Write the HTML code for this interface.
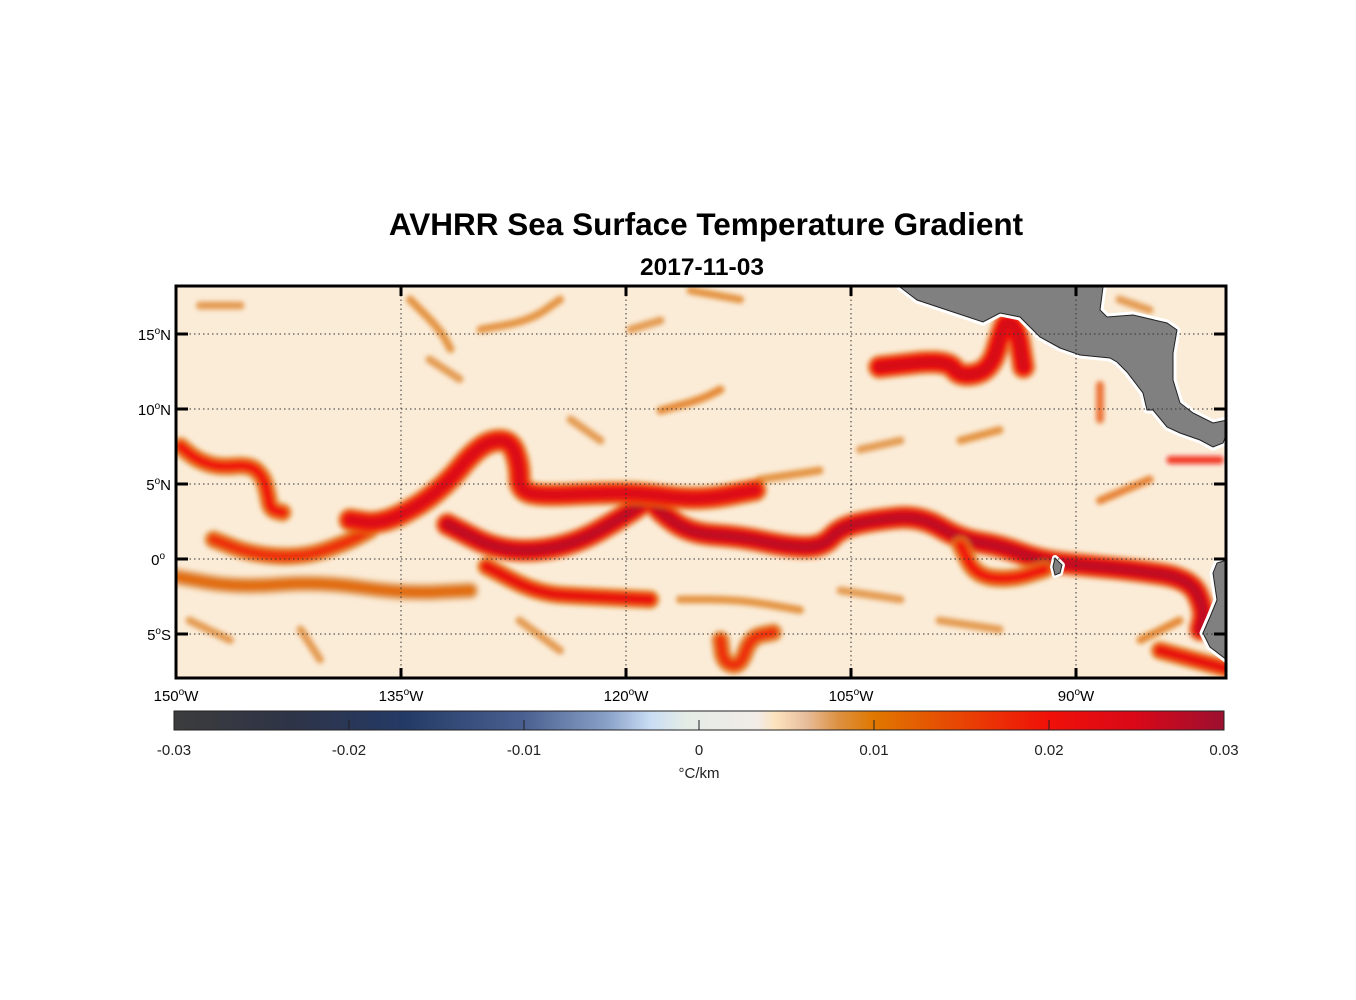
<!DOCTYPE html>
<html><head><meta charset="utf-8">
<style>
html,body{margin:0;padding:0;background:#fff;}
svg{display:block;font-family:"Liberation Sans",Arial,sans-serif;}
</style></head>
<body>
<svg id="fig" width="1356" height="1000" viewBox="0 0 1356 1000">
  <defs>
    <filter id="blur" x="-20%" y="-20%" width="140%" height="140%"><feGaussianBlur stdDeviation="2.5"/></filter>
    <clipPath id="mapclip"><rect x="176" y="286" width="1050" height="392"/></clipPath>
    <linearGradient id="cbgrad" x1="0" x2="1" y1="0" y2="0">
      <stop offset="0" stop-color="#3c3c3c"/>
      <stop offset="0.17" stop-color="#2e3448"/>
      <stop offset="0.33" stop-color="#243a66"/>
      <stop offset="0.5" stop-color="#4a6090"/>
      <stop offset="0.62" stop-color="#8aa2c8"/>
      <stop offset="0.68" stop-color="#c8dcf4"/>
      <stop offset="0.73" stop-color="#e4ece6"/>
      <stop offset="0.833" stop-color="#f2ece8"/>
      <stop offset="0.86" stop-color="#fde2bc"/>
      <stop offset="0.9" stop-color="#e8c0a0"/>
      <stop offset="0.95" stop-color="#dc9040"/>
      <stop offset="1" stop-color="#e07800"/>
    </linearGradient>
    <linearGradient id="cbgrad2" x1="0" x2="1" y1="0" y2="0">
      <stop offset="0" stop-color="#e07800"/>
      <stop offset="0.5" stop-color="#f01008"/>
      <stop offset="0.75" stop-color="#d80818"/>
      <stop offset="1" stop-color="#9c1030"/>
    </linearGradient>
  </defs>
  <text x="706" y="235" text-anchor="middle" font-size="31.5" font-weight="bold">AVHRR Sea Surface Temperature Gradient</text>
  <text x="702" y="275" text-anchor="middle" font-size="24.5" font-weight="bold">2017-11-03</text>
  <g clip-path="url(#mapclip)">
    <rect x="176" y="286" width="1050" height="392" fill="#fbecd8"/>
    <g id="fronts" filter="url(#blur)"></g>
    <g>
      <path d="M900,287 L917,300 L947,310 L983,322 L1000,313 L1020,317 L1040,337 L1060,348 L1080,355 L1110,358 L1117,362 L1127,372 L1143,393 L1147,410 L1153,410 L1167,427 L1180,433 L1200,440 L1213,447 L1223,443 L1227,433 L1227,420 L1213,423 L1193,413 L1180,403 L1173,380 L1173,353 L1177,330 L1167,323 L1133,315 L1107,317 L1100,310 L1103,287 Z" fill="#808080" stroke="#fff" stroke-width="7" stroke-linejoin="round"/>
      <path d="M900,287 L917,300 L947,310 L983,322 L1000,313 L1020,317 L1040,337 L1060,348 L1080,355 L1110,358 L1117,362 L1127,372 L1143,393 L1147,410 L1153,410 L1167,427 L1180,433 L1200,440 L1213,447 L1223,443 L1227,433 L1227,420 L1213,423 L1193,413 L1180,403 L1173,380 L1173,353 L1177,330 L1167,323 L1133,315 L1107,317 L1100,310 L1103,287 Z" fill="#808080" stroke="#222" stroke-width="1"/>
      <path d="M1227,560 L1217,563 L1213,573 L1217,600 L1210,617 L1203,633 L1210,647 L1227,660 Z" fill="#808080" stroke="#fff" stroke-width="7" stroke-linejoin="round"/>
      <path d="M1227,560 L1217,563 L1213,573 L1217,600 L1210,617 L1203,633 L1210,647 L1227,660 Z" fill="#808080" stroke="#222" stroke-width="1"/>
      <path d="M1055,558 L1062,565 L1060,573 L1055,575 L1053,567 Z" fill="#808080" stroke="#fff" stroke-width="6" stroke-linejoin="round"/>
      <path d="M1055,558 L1062,565 L1060,573 L1055,575 L1053,567 Z" fill="#808080" stroke="#222" stroke-width="1"/>
    </g>
    <g id="grid"></g>
  </g>
  <rect x="176" y="286" width="1050" height="392" fill="none" stroke="#000" stroke-width="3"/>
  <g id="axes"></g>
  <g id="colorbar"></g>
  <text x="699" y="778" text-anchor="middle" font-size="15" fill="#222">°C/km</text>
</svg>
<script>
// ---- data ----
const lonTicks = [150, 135, 120, 105, 90];            // degrees W
const latTicks = [15, 10, 5, 0, -5];
const latTickLabels = ["15", "10", "5", "0", "5"];
const latTickSuffix = ["N", "N", "N", "", "S"];
const cbTicks = [-0.03, -0.02, -0.01, 0, 0.01, 0.02, 0.03];
const cbTickLabels = ["-0.03", "-0.02", "-0.01", "0", "0.01", "0.02", "0.03"];

// fronts: lon in degrees W, lat in degrees N, value = gradient (°C/km)
const frontNames = ["equatorial-front","south-branch-left","loop-front","west-wiggle","south-band","south-band-east","north-loop","south-hook","southeast-front","galapagos-loop"];
const frontValues = [0.027, 0.018, 0.024, 0.02, 0.012, 0.022, 0.025, 0.018, 0.022, 0.02];
const frontLons = [
 [131.9,128.2,123.7,119.7,118.4,117.7,115.7,112.4,109.1,106.9,105.7,103.5,100.4,97.7,95.1,92.4,89.7,86.4,82.4,81.4,81.7],
 [147.5,144.9,141.5,138.6,137.1],
 [138.4,136.4,133.7,131.7,130.4,129.1,127.7,127.1,127.1,125.7,121.7,119.1,115.1,111.4],
 [149.7,148.6,147.1,145.1,144.2,143.9,143.7,142.9],
 [149.9,145.9,140.4,134.9,130.4],
 [129.3,125.9,122.6,118.4],
 [103.1,98.6,97.7,95.7,94.9,94.6,93.9,93.5],
 [113.7,113.5,112.4,111.7,110.2],
 [84.4,80],
 [97.7,96.7,94.4,92.1]
];
const frontLats = [
 [2.3,0.4,0.8,3.1,4.1,3.1,1.7,1.5,0.8,0.8,2.1,2.6,2.9,1.3,0.9,-0.1,-0.4,-0.7,-1.3,-3.4,-4.7],
 [1.3,0.3,0.1,1.1,1.9],
 [2.6,2.3,3.6,5.3,6.9,7.9,7.9,6.3,4.6,4.2,4.4,4.4,3.9,4.6],
 [7.5,6.6,6.1,6.3,5.5,4.4,3.3,3.1],
 [-1.2,-1.9,-1.5,-2.3,-2.1],
 [-0.5,-2.3,-2.5,-2.7],
 [12.8,13.3,12.1,12.6,15.3,15.9,15.3,12.8],
 [-5.4,-6.9,-7.2,-5.2,-4.9],
 [-6.1,-7.3],
 [0.9,-1.1,-1.4,-0.7]
];
const streakValues = [0.009,0.01,0.009,0.01,0.009,0.01,0.011,0.01,0.009,0.009,0.009,0.01,0.009,0.009,0.014,0.01,0.012,0.02,0.009,0.011,0.009,0.009];
const streakLons = [[148.4,145.7],[134.4,132.4,131.7],[133.1,131.1],[129.7,126.4,124.4],[119.7,117.7],[115.7,112.4],[117.7,115.1,113.7],[111.1,107.1],[149.1,146.4],[141.7,140.4],[127.1,124.4],[116.4,112.4,108.4],[105.7,101.7],[99.1,95.1],[88.4,88.4],[97.7,95.1],[88.4,85.1],[83.7,80.4],[104.4,101.7],[85.7,83.1],[87.1,85.1],[123.7,121.7]];
const streakLats = [[16.9,16.9],[17.3,15.3,14.0],[13.3,12.0],[15.3,15.9,17.3],[15.3,15.9],[17.9,17.3],[9.9,10.6,11.3],[5.3,5.9],[-4.1,-5.4],[-4.7,-6.7],[-4.1,-6.1],[-2.7,-2.7,-3.4],[-2.1,-2.7],[-4.1,-4.7],[11.6,9.3],[7.9,8.6],[3.9,5.3],[6.6,6.6],[7.3,7.9],[-5.4,-4.1],[17.3,16.6],[9.3,7.9]];

// ---- axes ----
const X0 = 176, Y0 = 559, PX = 15;
function xLon(lonW){ return X0 + (150 - lonW) * PX; }
function yLat(lat){ return Y0 - lat * PX; }
const CB_X0 = 174, CB_W = 1050;
function xCb(v){ return CB_X0 + (v + 0.03) / 0.06 * CB_W; }

const stops = [[0,[251,236,216]],[0.004,[248,220,190]],[0.008,[222,150,70]],[0.011,[224,115,10]],[0.016,[236,70,10]],[0.02,[240,16,8]],[0.025,[214,8,24]],[0.03,[156,16,48]]];
function color(v){
  for(let i=1;i<stops.length;i++){
    if(v<=stops[i][0]){const a=stops[i-1],b=stops[i];const t=(v-a[0])/(b[0]-a[0]);
      const c=a[1].map((q,k)=>Math.round(q+(b[1][k]-q)*t));return `rgb(${c})`;}
  }
  return 'rgb(156,16,48)';
}
const NS='http://www.w3.org/2000/svg';
function mk(tag, attrs, parent){const e=document.createElementNS(NS,tag);for(const k in attrs)e.setAttribute(k,attrs[k]);parent.appendChild(e);return e;}
function pathD(lons,lats){
  const p=lons.map((l,i)=>[xLon(l),yLat(lats[i])]);
  let d='M'+p[0][0].toFixed(1)+','+p[0][1].toFixed(1);
  for(let i=1;i<p.length;i++){
    const prev=p[i-1],cur=p[i];
    const mx=(prev[0]+cur[0])/2,my=(prev[1]+cur[1])/2;
    if(i===1) d+=' L'+mx.toFixed(1)+','+my.toFixed(1);
    else d+=' Q'+prev[0].toFixed(1)+','+prev[1].toFixed(1)+' '+mx.toFixed(1)+','+my.toFixed(1);
  }
  d+=' L'+p[p.length-1][0].toFixed(1)+','+p[p.length-1][1].toFixed(1);
  return d;
}
const fg=document.getElementById('fronts');
streakLons.forEach((lons,i)=>{
  const e=mk('path',{d:pathD(lons,streakLats[i]),fill:'none',stroke:color(streakValues[i]),'stroke-width':8,'stroke-linecap':'round','stroke-linejoin':'round',opacity:0.8},fg);
  
  
});
frontLons.forEach((lons,i)=>{
  const v=frontValues[i];
  const w=v>0.022?18:13;
  mk('path',{d:pathD(lons,frontLats[i]),fill:'none',stroke:color(v*0.5),'stroke-width':w+6,'stroke-linecap':'round','stroke-linejoin':'round',opacity:0.8},fg);
  mk('path',{d:pathD(lons,frontLats[i]),fill:'none',stroke:color(v*0.8),'stroke-width':w,'stroke-linecap':'round','stroke-linejoin':'round'},fg);
  const e=mk('path',{d:pathD(lons,frontLats[i]),fill:'none',stroke:color(v),'stroke-width':w*0.5,'stroke-linecap':'round','stroke-linejoin':'round'},fg);
  
  
});

const grid=document.getElementById('grid'), axes=document.getElementById('axes');
lonTicks.forEach((l,i)=>{
  const x=xLon(l);
  if(i>0){const g=mk('line',{x1:x,x2:x,y1:286,y2:678,stroke:'#333','stroke-width':1,'stroke-dasharray':'1.5,3'},grid);
    
    }
  mk('line',{x1:x,x2:x,y1:286,y2:296,stroke:'#000','stroke-width':3},axes);
  mk('line',{x1:x,x2:x,y1:668,y2:678,stroke:'#000','stroke-width':3},axes);
  const t=mk('text',{x:x,y:701,'text-anchor':'middle','font-size':15},axes);
  
  
  t.innerHTML=l+'<tspan dy="-6" font-size="10">o</tspan><tspan dy="6">W</tspan>';
});
latTicks.forEach((la,i)=>{
  const y=yLat(la);
  const g=mk('line',{x1:176,x2:1226,y1:y,y2:y,stroke:'#333','stroke-width':1,'stroke-dasharray':'1.5,3'},grid);
  
  
  mk('line',{x1:176,x2:188,y1:y,y2:y,stroke:'#000','stroke-width':3},axes);
  mk('line',{x1:1214,x2:1226,y1:y,y2:y,stroke:'#000','stroke-width':3},axes);
  const t=mk('text',{x:latTickSuffix[i]?171:165,y:y+6,'text-anchor':'end','font-size':15},axes);
  
  
  t.innerHTML=latTickLabels[i]+'<tspan dy="-6" font-size="10">o</tspan><tspan dy="6">'+latTickSuffix[i]+'</tspan>';
});

const cb=document.getElementById('colorbar');
const r1=mk('rect',{x:xCb(-0.03),y:711,width:xCb(0.01)-xCb(-0.03),height:19,fill:'url(#cbgrad)'},cb);


const r2=mk('rect',{x:xCb(0.01)-0.5,y:711,width:xCb(0.03)-xCb(0.01)+0.5,height:19,fill:'url(#cbgrad2)'},cb);


mk('rect',{x:xCb(-0.03),y:711,width:CB_W,height:19,fill:'none',stroke:'#222','stroke-width':1},cb);
cbTicks.forEach((v,i)=>{
  const x=xCb(v);
  if(i>0&&i<cbTicks.length-1) mk('line',{x1:x,x2:x,y1:730,y2:720,stroke:'#222','stroke-width':1},cb);
  const t=mk('text',{x:x,y:755,'text-anchor':'middle','font-size':15,fill:'#222'},cb);
  
  
  t.textContent=cbTickLabels[i];
});
</script>
</body></html>
